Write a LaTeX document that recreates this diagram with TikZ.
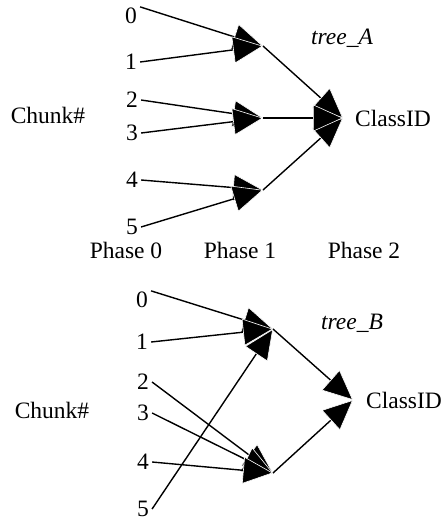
\documentclass[tikz,border=0pt]{standalone}
\usepackage{fontspec}
\setmainfont{Liberation Serif}
\usetikzlibrary{arrows.meta}
\usetikzlibrary{positioning}

\tikzset{
    feed/.style={line width=1.4pt, -{Triangle[length=30pt, width=27pt, line width=0.6pt, color=white, fill=black]}},
    chunk/.style={inner xsep=3pt, inner ysep=1pt},
}

\begin{document}
\begin{tikzpicture}[x=1pt, y=-1pt, font=\fontsize{23.5}{27}\selectfont]

\useasboundingbox (0, 0) rectangle (446, 522);

% tree A: chunk numbers
\foreach \n/\x/\y in {0/131/16, 1/131/62, 2/132/100, 3/132/133, 4/132/180, 5/132/227} {
    \node [chunk] (a\n) at (\x, \y) {\n};
}
\node (chunkA) at (48, 115) {Chunk\#};
\node [font=\fontsize{23.5}{27}\selectfont\itshape] (treeA) at (342, 38) {tree\_A};

% tree A: joins and class
\coordinate (jA1) at (263, 46);
\coordinate (jA2) at (263, 118);
\coordinate (jA3) at (263, 190);
\coordinate (cA) at (343, 118);
\node [right=11pt of cA, inner sep=1pt] (classA) {ClassID};

\draw [feed] (a0.north east) -- (jA1);
\draw [feed] (a1.east) -- (jA1);
\draw [feed] (a2.east) -- (jA2);
\draw [feed] (a3.east) -- (jA2);
\draw [feed] (a4.east) -- (jA3);
\draw [feed] (a5.east) -- (jA3);

\draw [feed] (jA1) -- (cA);
\draw [feed] (jA3) -- (cA);
\draw [feed] (jA2) -- (cA);

% phases
\node (phase0) at (126, 250) {Phase 0};
\node (phase1) at (240, 250) {Phase 1};
\node (phase2) at (364, 250) {Phase 2};

% tree B: chunk numbers
\foreach \n/\x/\y in {0/142/300, 1/142/342, 2/143/382, 3/143/413, 4/143/462, 5/143/509} {
    \node [chunk] (b\n) at (\x, \y) {\n};
}
\node (chunkB) at (52, 410) {Chunk\#};
\node [font=\fontsize{23.5}{27}\selectfont\itshape] (treeB) at (352, 323) {tree\_B};

% tree B: joins and class
\coordinate (jB1) at (273, 329);
\coordinate (jB2) at (273, 473);
\coordinate (cB) at (353, 400);
\node [right=12pt of cB, inner sep=1pt] (classB) {ClassID};

\draw [feed] (b0.north east) -- (jB1);
\draw [feed] (b1.east) -- (jB1);
\draw [feed] (b5.east) -- (jB1);
\draw [feed] (b2.east) -- (jB2);
\draw [feed] (b3.east) -- (jB2);
\draw [feed] (b4.east) -- (jB2);

\draw [feed] (jB1) -- (cB);
\draw [feed] (jB2) -- (cB);

\end{tikzpicture}
\end{document}
